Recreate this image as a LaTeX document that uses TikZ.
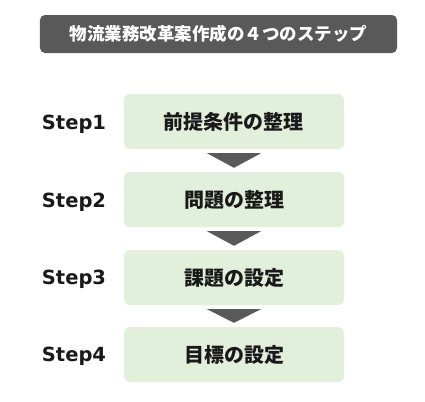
\documentclass[tikz,border=0pt]{standalone}
\usepackage{fontspec}
\setmainfont{DejaVu Sans}
\newfontfamily\jpfont{Noto Sans CJK JP}
\usetikzlibrary{calc}
\definecolor{titlegray}{HTML}{595959}
\definecolor{palegreen}{HTML}{E2EFDA}

\begin{document}
\begin{tikzpicture}[x=1bp,y=-1bp,
  stepbox/.style={fill=palegreen,rounded corners=6bp,minimum width=220bp,minimum height=55bp,
    font=\jpfont\bfseries\fontsize{20bp}{22bp}\selectfont,text=black!90},
  steplabel/.style={font=\bfseries\fontsize{19.5bp}{22bp}\selectfont,text=black!90},
  arrowtri/.style={fill=titlegray}]
  \useasboundingbox (0,0) rectangle (425,402);
  % title bar
  \node[fill=titlegray,rounded corners=5bp,minimum width=357bp,minimum height=38bp,
    text=white,font=\jpfont\bfseries\fontsize{17.5bp}{20bp}\selectfont] (title) at (218.5,34) {物流業務改革案作成の４つのステップ};
  % steps
  \node[stepbox] (s1) at (234,121.5) {前提条件の整理};
  \node[stepbox] (s2) at (234,199.5) {問題の整理};
  \node[stepbox] (s3) at (234,277.5) {課題の設定};
  \node[stepbox] (s4) at (234,354.5) {目標の設定};
  \node[steplabel] (l1) at (74,124) {Step1};
  \node[steplabel] (l2) at (74,202) {Step2};
  \node[steplabel] (l3) at (74,279) {Step3};
  \node[steplabel] (l4) at (74,356) {Step4};
  % arrows
  \fill[arrowtri] ($(s1.south)+(-27,4)$) -- ($(s1.south)+(27,4)$) -- ($(s2.north)+(0,-4)$) -- cycle;
  \fill[arrowtri] ($(s2.south)+(-27,4)$) -- ($(s2.south)+(27,4)$) -- ($(s3.north)+(0,-4)$) -- cycle;
  \fill[arrowtri] ($(s3.south)+(-27,4)$) -- ($(s3.south)+(27,4)$) -- ($(s4.north)+(0,-4)$) -- cycle;
\end{tikzpicture}
\end{document}
